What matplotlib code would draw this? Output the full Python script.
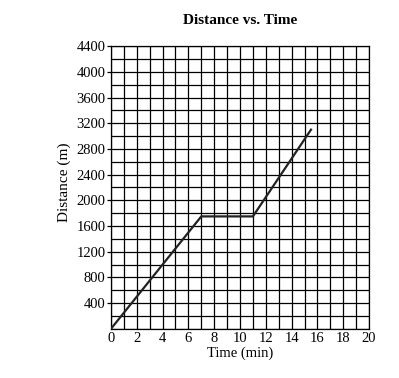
import matplotlib
matplotlib.use("Agg")
import matplotlib.pyplot as plt
import numpy as np

time_min = [0, 7, 11, 15.5]
distance_m = [0, 1750, 1750, 3100]
x_ticks = list(range(0, 21, 2))
y_ticks = list(range(400, 4401, 400))

plt.rcParams['font.family'] = ['Liberation Serif', 'DejaVu Serif']

fig = plt.figure(figsize=(3.99, 3.78), dpi=100)
ax = fig.add_axes([0.278, 0.130, 0.647, 0.748])

for gx in np.arange(0, 21, 1):
    ax.axvline(gx, color='black', lw=0.9, zorder=1)
for gy in np.arange(0, 4401, 200):
    ax.axhline(gy, color='black', lw=0.9, zorder=1)

ax.plot(time_min, distance_m, color='#222222', lw=1.6, zorder=3)

ax.set_xlim(0, 20)
ax.set_ylim(0, 4400)
ax.set_xticks(x_ticks)
ax.set_yticks(y_ticks)
ax.tick_params(axis='x', length=0, pad=2, labelsize=10.5)
ax.tick_params(axis='y', length=3, width=0.9, pad=1, labelsize=10.5)
for s in ax.spines.values():
    s.set_linewidth(0.9)

ax.set_xlabel('Time (min)', fontsize=10.5, labelpad=1)
ax.set_ylabel('Distance (m)', fontsize=11)
ax.yaxis.set_label_coords(-0.155, 0.52)
ax.set_title('Distance vs. Time', fontsize=11, fontweight='bold', pad=16)

fig.savefig('out.png', dpi=100)
